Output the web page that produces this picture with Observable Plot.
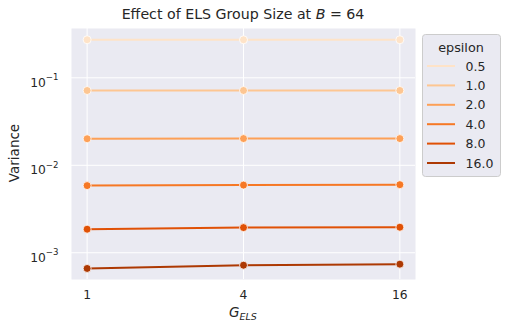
<!DOCTYPE html>
<html><head><meta charset="utf-8">
<script src="https://cdn.jsdelivr.net/npm/d3@7"></script>
<script src="https://cdn.jsdelivr.net/npm/@observablehq/plot@0.6"></script>
<style>body{margin:0;background:#fff} svg{font-family:"DejaVu Sans",sans-serif}</style>
</head><body><div id="chart"></div>
<script>
const groupSizes = [1, 4, 16];
const epsilons = ["0.5", "1.0", "2.0", "4.0", "8.0", "16.0"];
const varEps0_5 = [0.272, 0.272, 0.272];
const varEps1 = [0.0716, 0.0716, 0.0716];
const varEps2 = [0.0201, 0.0202, 0.0202];
const varEps4 = [0.00586, 0.00594, 0.00600];
const varEps8 = [0.00186, 0.00194, 0.00196];
const varEps16 = [0.000662, 0.000721, 0.000741];
const colors = ["#fee3c8", "#fdc692", "#fda057", "#f67825", "#e05106", "#ad3903"];
const yTicks = [1e-3, 1e-2, 1e-1];
const yTickBase = "10";
const yTickExponents = ["\u22123", "\u22122", "\u22121"];
const titleText = ["Effect of ELS Group Size at ", "B", " = 64"];
const xLabel = ["G", "ELS"];
const yLabel = "Variance";
const legendTitle = "epsilon";

const series = [varEps0_5, varEps1, varEps2, varEps4, varEps8, varEps16];
const rows = [];
series.forEach((vals, k) => vals.forEach((v, i) => rows.push({g: groupSizes[i], v, eps: epsilons[k]})));

const chart = Plot.plot({
  width: 509, height: 332,
  marginLeft: 71, marginRight: 94, marginTop: 28, marginBottom: 53,
  style: {fontFamily: "DejaVu Sans, sans-serif", fontSize: "12.3px", color: "#262626", background: "white"},
  x: {type: "log", base: 2, domain: [2 ** -0.2, 2 ** 4.2], label: null},
  y: {type: "log", domain: [4.95e-4, 0.366], label: null},
  color: {domain: epsilons, range: colors},
  marks: [
    Plot.frame({fill: "#eaeaf2", stroke: null}),
    Plot.gridX(groupSizes, {stroke: "white", strokeOpacity: 1, strokeWidth: 1}),
    Plot.gridY(yTicks, {stroke: "white", strokeOpacity: 1, strokeWidth: 1}),
    Plot.axisX(groupSizes, {tickSize: 0, tickPadding: 11, tickFormat: d => String(d), label: null, fill: "#262626", fontSize: 12.3}),
    Plot.axisY(yTicks, {tickSize: 0, tickPadding: 13, tickFormat: () => yTickBase, label: null, fill: "#262626", fontSize: 12.3}),
    Plot.line(rows, {x: "g", y: "v", z: "eps", stroke: "eps", strokeWidth: 2}),
    Plot.dot(rows, {x: "g", y: "v", fill: "eps", stroke: "white", strokeWidth: 0.8, r: 4})
  ]
});
document.getElementById("chart").appendChild(chart);

const svg = d3.select(chart);
// superscripts on y tick labels
svg.selectAll('g[aria-label="y-axis tick label"] text').each(function(d, i) {
  const txt = d3.select(this);
  txt.attr("dy", "0.4em");
  txt.append("tspan").attr("font-size", 8.6).attr("dy", "-0.75em").text(yTickExponents[i]);
});
// title
const t = svg.append("text").attr("x", 243).attr("y", 19).attr("text-anchor", "middle")
  .attr("font-size", 14.2).attr("fill", "#262626");
t.append("tspan").text(titleText[0]);
t.append("tspan").attr("font-style", "italic").text(titleText[1]);
t.append("tspan").text(titleText[2]);
// x label
const xl = svg.append("text").attr("x", 243).attr("y", 317).attr("text-anchor", "middle")
  .attr("font-size", 13.5).attr("fill", "#262626").attr("font-style", "italic");
xl.append("tspan").text(xLabel[0]);
xl.append("tspan").attr("font-size", 9.5).attr("dy", 3).text(xLabel[1]);
// y label
svg.append("text").attr("transform", "translate(19,153) rotate(-90)").attr("text-anchor", "middle")
  .attr("font-size", 13.5).attr("fill", "#262626").text(yLabel);
// legend
const lg = svg.append("g");
lg.append("rect").attr("x", 422.5).attr("y", 34.5).attr("width", 78).attr("height", 142)
  .attr("rx", 3).attr("fill", "#eaeaf2").attr("stroke", "#cccccc").attr("stroke-width", 1);
lg.append("text").attr("x", 461).attr("y", 51.5).attr("text-anchor", "middle")
  .attr("font-size", 12.8).attr("fill", "#262626").text(legendTitle);
epsilons.forEach((e, i) => {
  const y = 66 + i * 19.4;
  lg.append("line").attr("x1", 427).attr("x2", 455).attr("y1", y).attr("y2", y)
    .attr("stroke", colors[i]).attr("stroke-width", 2);
  lg.append("text").attr("x", 465.5).attr("y", y + 4.5).attr("font-size", 12.5)
    .attr("text-anchor", "start").attr("fill", "#262626").text(e);
});
</script>
</body></html>
